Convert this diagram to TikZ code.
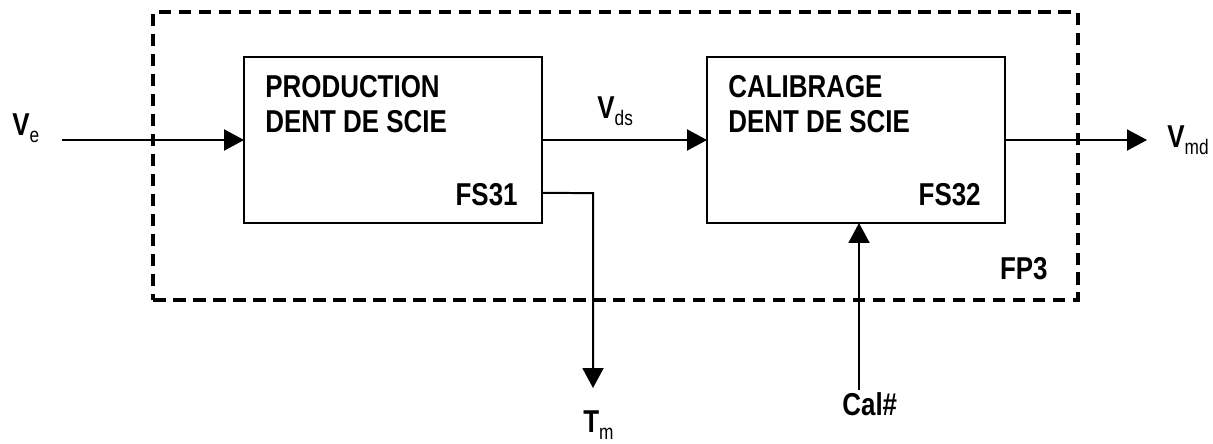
\documentclass[tikz,border=0pt]{standalone}
\usepackage{fontspec}
\setmainfont[FakeStretch=0.82]{Liberation Sans}
\usetikzlibrary{positioning, arrows.meta, calc}
\newcommand{\sgn}[2]{#1\lower0.15cm\hbox{\fontsize{12}{12}\mdseries\selectfont #2}}

\begin{document}
\begin{tikzpicture}[
  x=0.02cm, y=-0.02cm,
  font=\fontsize{18}{19.9}\selectfont\bfseries,
  >={Triangle[length=0.4cm, width=0.42cm]},
  blk/.style={draw, line width=0.04cm, minimum width=5.96cm, minimum height=3.32cm,
              inner sep=0pt, outer sep=0pt},
  fpbox/.style={draw, line width=0.07cm, dash pattern=on 0.25cm off 0.15cm,
                minimum width=18.5cm, minimum height=5.76cm, inner sep=0pt, outer sep=0pt},
  flow/.style={line width=0.04cm, ->},
  ttl/.style={anchor=north west, align=left, inner sep=0pt},
  tag/.style={anchor=base east, inner sep=0pt},
  lbl/.style={anchor=base west, inner sep=0pt}
]
\useasboundingbox (0,0) rectangle (1213,443);

% ---- FP3 frame ----
\node[fpbox] (fp3) at (615.5,156) {};
\node[tag] (nfp3) at ([xshift=-0.6cm, yshift=0.4cm]fp3.south east) {FP3};

% ---- Blocks ----
\node[blk] (fs31) at (393,140) {};
\node[ttl] (t31) at ([xshift=0.42cm, yshift=-0.36cm]fs31.north west)
      {PRODUCTION\\DENT DE SCIE};
\node[tag] (n31) at ([xshift=-0.48cm, yshift=0.34cm]fs31.south east) {FS31};

\node[blk] (fs32) at (856,140) {};
\node[ttl] (t32) at ([xshift=0.42cm, yshift=-0.36cm]fs32.north west)
      {CALIBRAGE\\DENT DE SCIE};
\node[tag] (n32) at ([xshift=-0.48cm, yshift=0.34cm]fs32.south east) {FS32};

% ---- Signals ----
\node[lbl] (ve)  at (12,135)   {\sgn{V}{e}};
\node[lbl] (vds) at (597,118)  {\sgn{V}{ds}};
\node[lbl] (vmd) at (1167,147) {\sgn{V}{md}};
\node[lbl] (tm)  at (583,432)  {\sgn{T}{m}};
\node[lbl] (cal) at (842,415)  {Cal\#};

\coordinate (in)   at (62,140);
\coordinate (out)  at (1147,140);
\coordinate (tmc)  at ([yshift=0.6cm]fs31.south east);
\coordinate (tmk)  at (593,193);
\coordinate (tme)  at (593,388);
\coordinate (cals) at (859,390);

\draw[flow] (in) -- (fs31.west);
\draw[flow] (fs31.east) -- (fs32.west);
\draw[flow] (fs32.east) -- (out);
\draw[flow] (tmc) -- (tmk) -- (tme);
\draw[flow] (cals) -- (cals |- fs32.south);

\end{tikzpicture}
\end{document}
